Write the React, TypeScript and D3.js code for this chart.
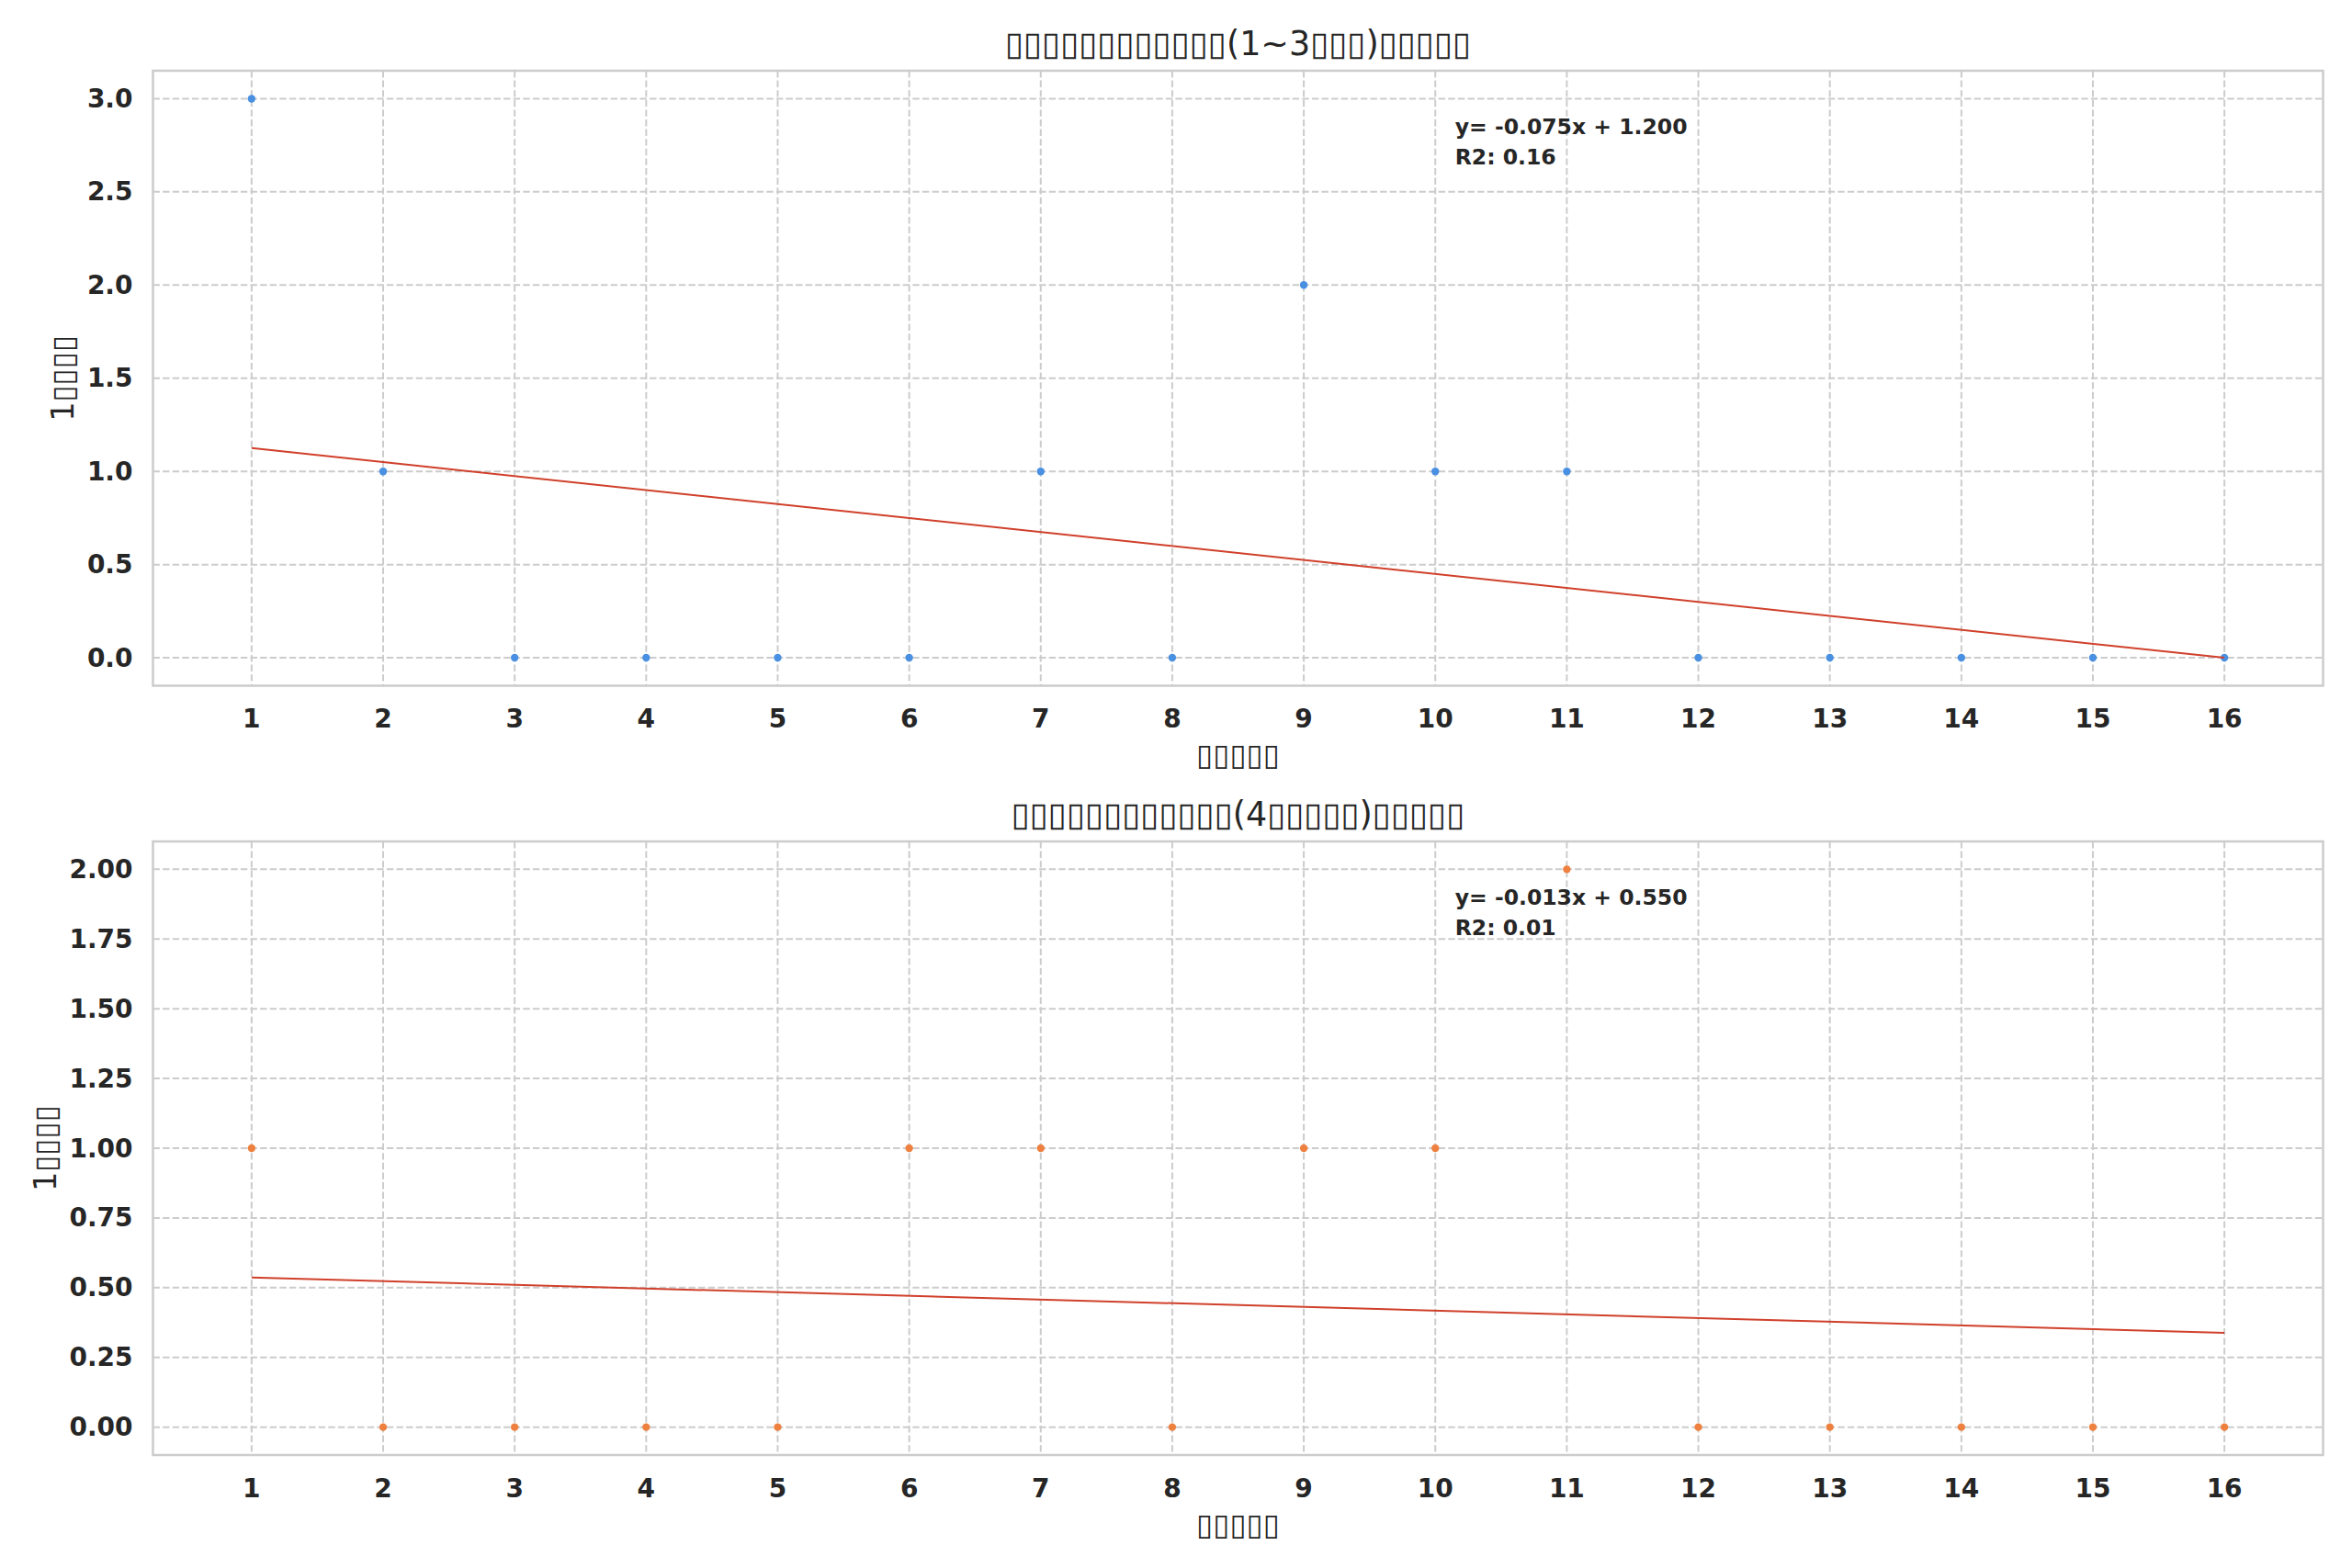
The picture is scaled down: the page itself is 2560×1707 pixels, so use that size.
// @ts-nocheck
import React from "react";
import * as d3 from "d3";

// 16 periods on the x axis
const periods = [1, 2, 3, 4, 5, 6, 7, 8, 9, 10, 11, 12, 13, 14, 15, 16];
// counts per period, upper panel (1~3 group) and lower panel (4+ group)
const countsA = [3, 1, 0, 0, 0, 0, 1, 0, 2, 1, 1, 0, 0, 0, 0, 0];
const countsB = [1, 0, 0, 0, 0, 1, 1, 0, 1, 1, 2, 0, 0, 0, 0, 0];

const yTicksA = [0, 0.5, 1, 1.5, 2, 2.5, 3];
const yTicksB = [0, 0.25, 0.5, 0.75, 1, 1.25, 1.5, 1.75, 2];

// the original labels are Chinese that rendered as missing-glyph boxes
const titleA = "▯▯▯▯▯▯▯▯▯▯▯▯(1~3▯▯▯)▯▯▯▯▯";
const titleB = "▯▯▯▯▯▯▯▯▯▯▯▯(4▯▯▯▯▯)▯▯▯▯▯";
const xLabel = "▯▯▯▯▯";
const yLabel = "1▯▯▯▯";

const W = 2560;
const H = 1707;
const FONT = "DejaVu Sans";
const INK = "#262626";
const GRID = "#cccccc";

function fit(xs, ys) {
  const mx = d3.mean(xs);
  const my = d3.mean(ys);
  const sxy = d3.sum(xs, (x, i) => (x - mx) * (ys[i] - my));
  const sxx = d3.sum(xs, (x) => (x - mx) ** 2);
  const syy = d3.sum(ys, (y) => (y - my) ** 2);
  const slope = sxy / sxx;
  return { slope, intercept: my - slope * mx, r2: (sxy * sxy) / (sxx * syy) };
}

function Panel({ top, bottom, values, yTicks, digits, color, title, yLabelX }) {
  const left = 166.5;
  const right = 2528.5;
  const x = d3.scaleLinear().domain([0.25, 16.75]).range([left, right]);
  const yMax = d3.max(yTicks);
  const pad = yMax * 0.05;
  const y = d3.scaleLinear().domain([-pad, yMax + pad]).range([bottom, top]);
  const f = fit(periods, values);
  const line = d3.line().x((d) => x(d)).y((d) => y(f.slope * d + f.intercept));
  const sign = f.intercept >= 0 ? "+" : "-";
  // plain hyphen-minus, as in the original
  const eq = `y= ${f.slope.toFixed(3)}x ${sign} ${Math.abs(f.intercept).toFixed(3)}`;
  const annX = left + 0.6 * (right - left);
  const annY = top + 0.05 * (bottom - top) + 13;

  return (
    <g>
      <text x={(left + right) / 2} y={top - 28} textAnchor="middle" dominantBaseline="middle"
        fontFamily={FONT} fontSize={36.5} fill={INK}>{title}</text>

      {yTicks.map((t) => (
        <line key={"gy" + t} x1={left} x2={right} y1={y(t)} y2={y(t)}
          stroke={GRID} strokeWidth={2} strokeDasharray="7.4,3.2" />
      ))}
      {periods.map((p) => (
        <line key={"gx" + p} x1={x(p)} x2={x(p)} y1={top} y2={bottom}
          stroke={GRID} strokeWidth={2} strokeDasharray="7.4,3.2" />
      ))}

      <rect x={left} y={top} width={right - left} height={bottom - top}
        fill="none" stroke={GRID} strokeWidth={2.5} />

      {yTicks.map((t) => (
        <text key={"ty" + t} x={left - 22} y={y(t)} textAnchor="end" dominantBaseline="central"
          fontFamily={FONT} fontWeight="bold" fontSize={28} fill={INK}>{t.toFixed(digits)}</text>
      ))}
      {periods.map((p) => (
        <text key={"tx" + p} x={x(p)} y={bottom + 36} textAnchor="middle" dominantBaseline="central"
          fontFamily={FONT} fontWeight="bold" fontSize={28} fill={INK}>{p}</text>
      ))}

      <text x={(left + right) / 2} y={bottom + 75} textAnchor="middle" dominantBaseline="central"
        fontFamily={FONT} fontSize={33} fill={INK}>{xLabel}</text>
      <text transform={`translate(${yLabelX},${(top + bottom) / 2}) rotate(-90)`} textAnchor="middle"
        dominantBaseline="central" fontFamily={FONT} fontSize={33} fill={INK}>{yLabel}</text>

      {periods.map((p, i) => (
        <circle key={"pt" + p} cx={x(p)} cy={y(values[i])} r={4.2} fill={color} />
      ))}

      <path d={line([periods[0], periods[periods.length - 1]])} fill="none" stroke="#d0402b" strokeWidth={2} />

      <text x={annX} y={annY} fontFamily={FONT} fontWeight="bold" fontSize={23.5} fill={INK}>
        <tspan x={annX} dy="0.95em">{eq}</tspan>
        <tspan x={annX} dy="1.4em">{`R2: ${f.r2.toFixed(2)}`}</tspan>
      </text>
    </g>
  );
}

export default function App() {
  return (
    <svg width={W} height={H} viewBox={`0 0 ${W} ${H}`}
      style={{ position: "absolute", left: 0, top: 0, background: "#fff" }}>
      <rect width={W} height={H} fill="#fff" />
      <Panel top={77} bottom={746.5} values={countsA} yTicks={yTicksA} digits={1}
        color="#4a90e2" title={titleA} yLabelX={68} />
      <Panel top={916} bottom={1584} values={countsB} yTicks={yTicksB} digits={2}
        color="#ee8040" title={titleB} yLabelX={49} />
    </svg>
  );
}
